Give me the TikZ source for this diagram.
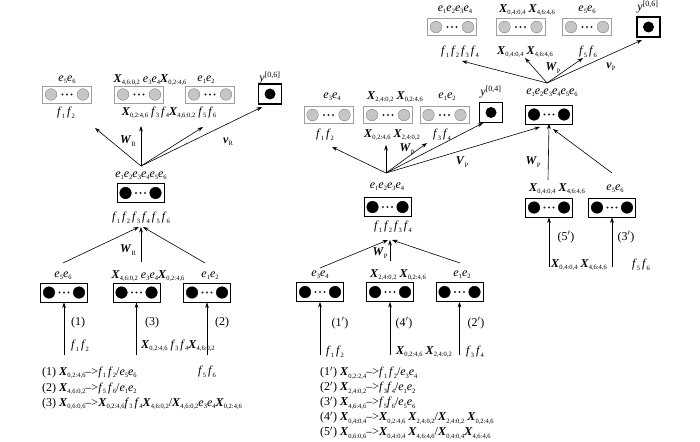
\documentclass[tikz,border=0pt]{standalone}
\usepackage{fontspec}
\setmainfont{Liberation Serif}
\usetikzlibrary{arrows.meta,positioning}

\newcommand\sbs[1]{\raisebox{-2.2pt}{\fontsize{6.5}{7}\selectfont #1}}
\newcommand\xs[1]{\textbf{\textit{X}}\sbs{#1}}
\newcommand\es[1]{\textit{e}\sbs{#1}}
\newcommand\fs[1]{\textit{f}\sbs{#1}}
\newcommand\wt[2]{\textbf{\textit{#1}}\sbs{#2}}
\newcommand\pairdots[2]{%
  \path[fill=#1, draw=#2, line width=0.4pt] ([xshift=8.5pt]path picture bounding box.west) circle (5.8pt)
    ([xshift=-8.5pt]path picture bounding box.east) circle (5.8pt);
  \fill[black!85] (path picture bounding box.center) circle (1.1pt)
    ([xshift=-4.5pt]path picture bounding box.center) circle (1.1pt)
    ([xshift=4.5pt]path picture bounding box.center) circle (1.1pt);}

\tikzset{
  gpair/.style={draw=gray!75, line width=0.8pt, minimum width=49pt, minimum height=17pt, inner sep=0pt,
    path picture={\pairdots{gray!45}{gray}}},
  bpair/.style={draw, line width=1pt, minimum width=47pt, minimum height=19pt, inner sep=0pt,
    path picture={\pairdots{black}{black}}},
  ybox/.style={draw, line width=1.2pt, minimum width=23pt, minimum height=20pt, inner sep=0pt,
    path picture={\fill (path picture bounding box.center) circle (5.5pt);}},
  arr/.style={-{Stealth[length=5.5pt,width=3.8pt]}, line width=0.6pt},
  lgd/.style={anchor=west, inner sep=0pt},
}

\begin{document}
\begin{tikzpicture}[x=1pt, y=-1pt, font=\fontsize{12}{14}\selectfont]
 \useasboundingbox (0,0) rectangle (700,441);

 % left tree, output layer
 \node[gpair] (ltA) at (67,94.5) {};
 \node[gpair] (ltB) at (139,94.5) {};
 \node[gpair] (ltC) at (210,94.5) {};
 \node[ybox] (ltY) at (270,94) {};
 \node (ltAa) at (67,80) {\es5\es6};
 \node (ltBa) at (150,80) {\xs{4,6:0,2} \es3\es4\xs{0,2:4,6}};
 \node (ltCa) at (206,80) {\es1\es2};
 \node (ltYa) at (270,78) {\textit{y}\textsuperscript{[0,6]}};
 \node (ltAb) at (66,113) {\fs1\,\fs2};
 \node (ltBb) at (169,113) {\xs{0,2:4,6} \fs3\,\fs4\xs{4,6:0,2} \fs5\,\fs6};

 \coordinate (ltO) at (141,166);
 \coordinate (ltE1) at (95,128);
 \coordinate (ltE2) at (141,126);
 \coordinate (ltE3) at (203,127);
 \coordinate (ltE4) at (262,107);
 \foreach \e in {ltE1,ltE2,ltE3,ltE4} \draw[arr] (ltO) -- (\e);
 \node (ltW) at (128,141) {\wt{W}{R}};
 \node (ltV) at (228,142) {\wt{v}{R}};

 % left tree, root
 \node (ltMa) at (141,176) {\es1\es2\es3\es4\es5\es6};
 \node[bpair] (ltM) at (140.5,193) {};
 \node (ltMb) at (141,218) {\fs1\,\fs2\,\fs3\,\fs4\,\fs5\,\fs6};

 \coordinate (ltI) at (141,227);
 \coordinate (ltS1) at (63,263);
 \coordinate (ltS2) at (141,262);
 \coordinate (ltS3) at (205,263);
 \draw[arr] (ltS1) -- ([xshift=-2]ltI);
 \draw[arr] (ltS2) -- (ltI);
 \draw[arr] (ltS3) -- ([xshift=2]ltI);
 \node (ltW2) at (128,250) {\wt{W}{R}};

 % left tree, leaves
 \node[bpair] (lbA) at (64,292.5) {};
 \node[bpair] (lbB) at (136.5,292.5) {};
 \node[bpair] (lbC) at (207,292.5) {};
 \node (lbAa) at (63,276) {\es5\es6};
 \node (lbBa) at (148,276) {\xs{4,6:0,2} \es3\es4\xs{0,2:4,6}};
 \node (lbCa) at (210,276) {\es1\es2};
 \coordinate (lbAs) at (64,355);
 \coordinate (lbBs) at (136.5,355);
 \coordinate (lbCs) at (207,355);
 \foreach \b in {lbA,lbB,lbC} \draw[arr] (\b s) -- (\b.south);
 \node (lbAn) at (78,323) {(1)};
 \node (lbBn) at (152,323) {(3)};
 \node (lbCn) at (222,323) {(2)};
 \node (lbAb) at (80,346) {\fs1\,\fs2};
 \node[lgd] (lbBb) at (141,346) {\xs{0,2:4,6} \fs3\,\fs4\xs{4,6:0,2}};
 \node (lbCb) at (207,372) {\fs5\,\fs6};

 \node[lgd] (lg1) at (42,373) {(1) \xs{0,2:4,6}-->\fs1\,\fs2/\es5\es6};
 \node[lgd] (lg2) at (42,389) {(2) \xs{4,6:0,2}-->\fs5\,\fs6/\es1\es2};
 \node[lgd] (lg3) at (42,404) {(3) \xs{0,6:0,6}-->\xs{0,2:4,6}\fs3\,\fs4\xs{4,6:0,2}/\xs{4,6:0,2}\es3\es4\xs{0,2:4,6}};

 % right tree, output layer
 \node[gpair] (rtA) at (452,27) {};
 \node[gpair] (rtB) at (520.5,27) {};
 \node[gpair] (rtC) at (587,27) {};
 \node[ybox] (rtY) at (648.5,27) {};
 \node (rtAa) at (455,10) {\es1\es2\es3\es4};
 \node (rtBa) at (527,10) {\xs{0,4:0,4} \xs{4,6:4,6}};
 \node (rtCa) at (587,10) {\es5\es6};
 \node (rtYa) at (648,7) {\textit{y}\textsuperscript{[0,6]}};
 \node (rtAb) at (460,52) {\fs1\,\fs2\,\fs3\,\fs4};
 \node (rtBb) at (525,52) {\xs{0,4:0,4} \xs{4,6:4,6}};
 \node (rtCb) at (588,52) {\fs5\,\fs6};

 \coordinate (rtO) at (547,83);
 \coordinate (rtE1) at (462,61);
 \coordinate (rtE2) at (525,58);
 \coordinate (rtE3) at (583,58);
 \coordinate (rtE4) at (642,40);
 \foreach \e in {rtE1,rtE2,rtE3,rtE4} \draw[arr] (rtO) -- (\e);
 \node (rtW) at (553,68) {\wt{W}{P}};
 \node (rtV) at (611,67) {\wt{v}{P}};

 % right tree, root
 \node (rtMa) at (552,93) {\es1\es2\es3\es4\es5\es6};
 \node[bpair] (rtM) at (549,114.5) {};
 \coordinate (rtS2) at (548,180);
 \coordinate (rtS3) at (612,173);
 \draw[arr] (rtS2) -- ([yshift=1]rtM.south);
 \draw[arr] (rtS3) -- (553,129);
 \node (rtW2) at (533,162) {\wt{W}{P}};

 % right tree, second layer
 \node[bpair] (rbA) at (549,207.5) {};
 \node[bpair] (rbB) at (612,207.5) {};
 \node (rbAa) at (557,189) {\xs{0,4:0,4} \xs{4,6:4,6}};
 \node (rbBa) at (615,189) {\es5\es6};
 \coordinate (rbAs) at (549,267);
 \coordinate (rbBs) at (612,267);
 \foreach \b in {rbA,rbB} \draw[arr] (\b s) -- (\b.south);
 \node (rbAn) at (566,237) {(5$'$)};
 \node (rbBn) at (626,237) {(3$'$)};
 \node[lgd] (rbAb) at (551,265) {\xs{0,4:0,4} \xs{4,6:4,6}};
 \node (rbBb) at (641,265) {\fs5\,\fs6};

 % middle tree, output layer
 \node[gpair] (mtA) at (328.5,115) {};
 \node[gpair] (mtB) at (388,115) {};
 \node[gpair] (mtC) at (444.5,115) {};
 \node[ybox] (mtY) at (491,112.5) {};
 \node (mtAa) at (332,97) {\es3\es4};
 \node (mtBa) at (395,97) {\xs{2,4:0,2} \xs{0,2:4,6}};
 \node (mtCa) at (447,97) {\es1\es2};
 \node (mtYa) at (491,92) {\textit{y}\textsuperscript{[0,4]}};
 \node (mtAb) at (325,135) {\fs1\,\fs2};
 \node (mtBb) at (392,135) {\xs{0,2:4,6} \xs{2,4:0,2}};
 \node (mtCb) at (442,135) {\fs3\,\fs4};

 \coordinate (mtO) at (386,173);
 \coordinate (mtE1) at (332,147);
 \coordinate (mtE2) at (386,145);
 \coordinate (mtE3) at (427,143);
 \coordinate (mtE4) at (483,123);
 \coordinate (mtE5) at (540,127);
 \foreach \e in {mtE1,mtE2,mtE3,mtE4,mtE5} \draw[arr] (mtO) -- (\e);
 \node (mtW) at (407,149) {\wt{W}{P}};
 \node (mtV) at (462,162) {\wt{V}{P}};

 % middle tree, root
 \node (mtMa) at (387,187) {\es1\es2\es3\es4};
 \node[bpair] (mtM) at (387.5,207) {};
 \node (mtMb) at (393,227) {\fs1\,\fs2\,\fs3\,\fs4};

 \coordinate (mtI) at (390,240);
 \coordinate (mtS1) at (320,268);
 \coordinate (mtS2) at (390,261);
 \coordinate (mtS3) at (460,263);
 \draw[arr] (mtS1) -- ([xshift=-2]mtI);
 \draw[arr] (mtS2) -- (mtI);
 \draw[arr] (mtS3) -- ([xshift=2]mtI);
 \node (mtW2) at (380,253) {\wt{W}{P}};

 % middle tree, leaves
 \node[bpair] (mbA) at (320,292) {};
 \node[bpair] (mbB) at (390,292) {};
 \node[bpair] (mbC) at (459.5,292) {};
 \node (mbAa) at (320,275) {\es3\es4};
 \node (mbBa) at (398,275) {\xs{2,4:0,2} \xs{0,2:4,6}};
 \node (mbCa) at (462,275) {\es1\es2};
 \coordinate (mbAs) at (320,355);
 \coordinate (mbBs) at (390,355);
 \coordinate (mbCs) at (459.5,355);
 \foreach \b in {mbA,mbB,mbC} \draw[arr] (\b s) -- (\b.south);
 \node (mbAn) at (340,323) {(1$'$)};
 \node (mbBn) at (404,323) {(4$'$)};
 \node (mbCn) at (476,323) {(2$'$)};
 \node (mbAb) at (335,352) {\fs1\,\fs2};
 \node[lgd] (mbBb) at (396,352) {\xs{0,2:4,6} \xs{2,4:0,2}};
 \node (mbCb) at (475,352) {\fs3\,\fs4};

 \node[lgd] (lh1) at (320,373) {(1$'$) \xs{0,2:2,4}-->\fs1\,\fs2/\es3\es4};
 \node[lgd] (lh2) at (320,388) {(2$'$) \xs{2,4:0,2}-->\fs3\fs4/\es1\es2};
 \node[lgd] (lh3) at (320,403) {(3$'$) \xs{4,6:4,6}-->\fs5\fs6/\es5\es6};
 \node[lgd] (lh4) at (320,418) {(4$'$) \xs{0,4:0,4}-->\xs{0,2:4,6} \xs{2,4:0,2}/\xs{2,4:0,2} \xs{0,2:4,6}};
 \node[lgd] (lh5) at (320,433) {(5$'$) \xs{0,6:0,6}-->\xs{0,4:0,4} \xs{4,6:4,6}/\xs{0,4:0,4}\xs{4,6:4,6}};
\end{tikzpicture}
\end{document}
